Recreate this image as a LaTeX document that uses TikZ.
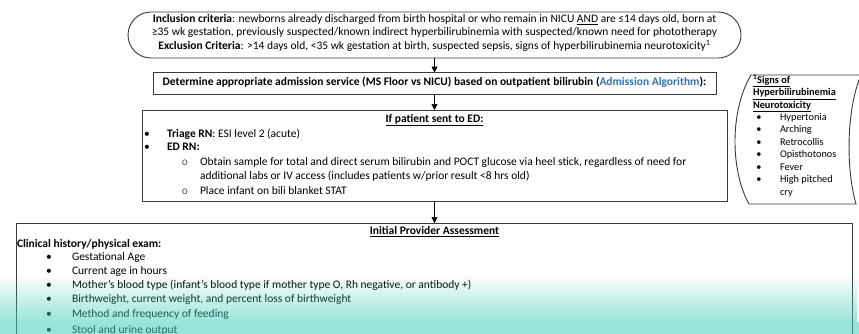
\documentclass[tikz,border=0pt]{standalone}
\usepackage{fontspec}
\setmainfont{Carlito}
\usetikzlibrary{arrows.meta,fadings,shapes.misc}

\definecolor{framegray}{HTML}{3A3A3A}
\definecolor{linkblue}{HTML}{2E74B5}
\definecolor{mint}{RGB}{70,206,186}
\tikzfading[name=mintfade, top color=transparent!100, bottom color=transparent!0]

\tikzset{
  panel/.style={draw=framegray, line width=0.9pt, inner sep=0pt, outer sep=0pt},
  txt/.style={inner sep=0pt, outer sep=0pt, font=\fontsize{11.5}{13}\selectfont},
  sidetxt/.style={inner sep=0pt, outer sep=0pt, font=\fontsize{10.3}{12}\selectfont},
  dot/.style={txt, anchor=mid},
  ring/.style={txt, anchor=mid, text=black!65},
  flow/.style={draw=black, line width=0.6pt, -{Triangle[length=6pt,width=6pt]}},
}

\begin{document}
\begin{tikzpicture}[x=1pt,y=-1pt]
\useasboundingbox (0,0) rectangle (859,333);
\clip (0,0) rectangle (859,333);
\fill[white] (0,0) rectangle (859,333);

% ---- flowchart boxes ----
\node[panel, rounded rectangle, minimum width=613pt, minimum height=46pt] (incl) at (434.5,35) {};
\node[panel, minimum width=563pt, minimum height=22pt] (admit)  at (434.5,83.5) {};
\node[panel, minimum width=585pt, minimum height=91pt] (ed)     at (434.5,155.5) {};
\node[panel, minimum width=836pt, minimum height=140pt] (assess) at (434.5,293) {};

% ---- connectors ----
\draw[flow] (incl.south) -- (admit.north);
\draw[flow] (admit.south) -- (ed.north);
\draw[flow] (ed.south) -- (assess.north);

% ---- criteria ----
\node[txt, anchor=mid] (inc1) at (434.5,20) {\textbf{Inclusion criteria}: newborns already discharged from birth hospital or who remain in NICU \underline{AND} are ≤14 days old, born at};
\node[txt, anchor=mid] (inc2) at (434.5,33.5) {≥35 wk gestation, previously suspected/known indirect hyperbilirubinemia with suspected/known need for phototherapy};
\node[txt, anchor=mid] (inc3) at (434.5,47) {\textbf{Exclusion Criteria}: >14 days old, <35 wk gestation at birth, suspected sepsis, signs of hyperbilirubinemia neurotoxicity\textsuperscript{1}};

% ---- admission service ----
\node[txt, anchor=mid] (admtxt) at (434.5,83.5) {\textbf{Determine appropriate admission service (MS Floor vs NICU) based on outpatient bilirubin (\textcolor{linkblue}{Admission Algorithm}):}};

% ---- ED steps ----
\node[txt, anchor=mid] (edtitle) at (434.5,120) {\textbf{\underline{If patient sent to ED:}}};
\node[dot] (edb1) at (147,135) {•};
\node[txt, anchor=mid west] (edt1) at (167,135) {\textbf{Triage RN}: ESI level 2 (acute)};
\node[dot] (edb2) at (147,148.5) {•};
\node[txt, anchor=mid west] (edt2) at (167,148.5) {\textbf{ED RN:}};
\node[ring] (edr1) at (185,163) {o};
\node[txt, anchor=mid west] (edt3) at (200,163) {Obtain sample for total and direct serum bilirubin and POCT glucose via heel stick, regardless of need for};
\node[txt, anchor=mid west] (edt4) at (200,177.5) {additional labs or IV access (includes patients w/prior result <8 hrs old)};
\node[ring] (edr2) at (185,192) {o};
\node[txt, anchor=mid west] (edt5) at (200,192) {Place infant on bili blanket STAT};

% ---- provider assessment ----
\node[txt, anchor=mid] (astitle) at (434.5,232) {\textbf{\underline{Initial Provider Assessment}}};
\node[txt, anchor=mid west] (ashead) at (17,245) {\textbf{Clinical history/physical exam:}};
\foreach \n/\y/\s in {1/258/{Gestational Age},
                      2/272/{Current age in hours},
                      3/286/{Mother’s blood type (infant’s blood type if mother type O, Rh negative, or antibody +)},
                      4/300/{Birthweight, current weight, and percent loss of birthweight},
                      5/315/{Method and frequency of feeding},
                      6/331/{Stool and urine output}}{
  \node[dot] (asb\n) at (49,\y) {•};
  \node[txt, anchor=mid west] (ast\n) at (72,\y) {\s};
}

% ---- neurotoxicity side note (stored-data outline) ----
\draw[framegray, line width=0.9pt]
  (751,75) -- (861,75)
  .. controls (846,110) and (846,170) .. (856,204)
  -- (749,204)
  .. controls (730,170) and (730,110) .. (751,75) -- cycle;
\node[sidetxt, anchor=mid west] (sg1) at (753,81) {\textbf{\underline{\textsuperscript{1}Signs of}}};
\node[sidetxt, anchor=mid west] (sg2) at (753,93.5) {\textbf{\underline{Hyperbilirubinemia}}};
\node[sidetxt, anchor=mid west] (sg3) at (753,106) {\textbf{\underline{Neurotoxicity}}};
\foreach \n/\y/\s in {1/118/Hypertonia, 2/130.5/Arching, 3/143/Retrocollis,
                      4/155.5/Opisthotonos, 5/168/Fever, 6/180.5/{High pitched}}{
  \node[sidetxt, anchor=mid] (sgb\n) at (759,\y) {•};
  \node[sidetxt, anchor=mid west] (sgt\n) at (780,\y) {\s};
}
\node[sidetxt, anchor=mid west] (sgt7) at (780,193) {cry};

% ---- mint band across the lower edge ----
\fill[mint, opacity=0.55, path fading=mintfade] (0,274) rectangle (859,322);
\fill[mint, opacity=0.55] (0,322) rectangle (859,334);
\end{tikzpicture}
\end{document}
